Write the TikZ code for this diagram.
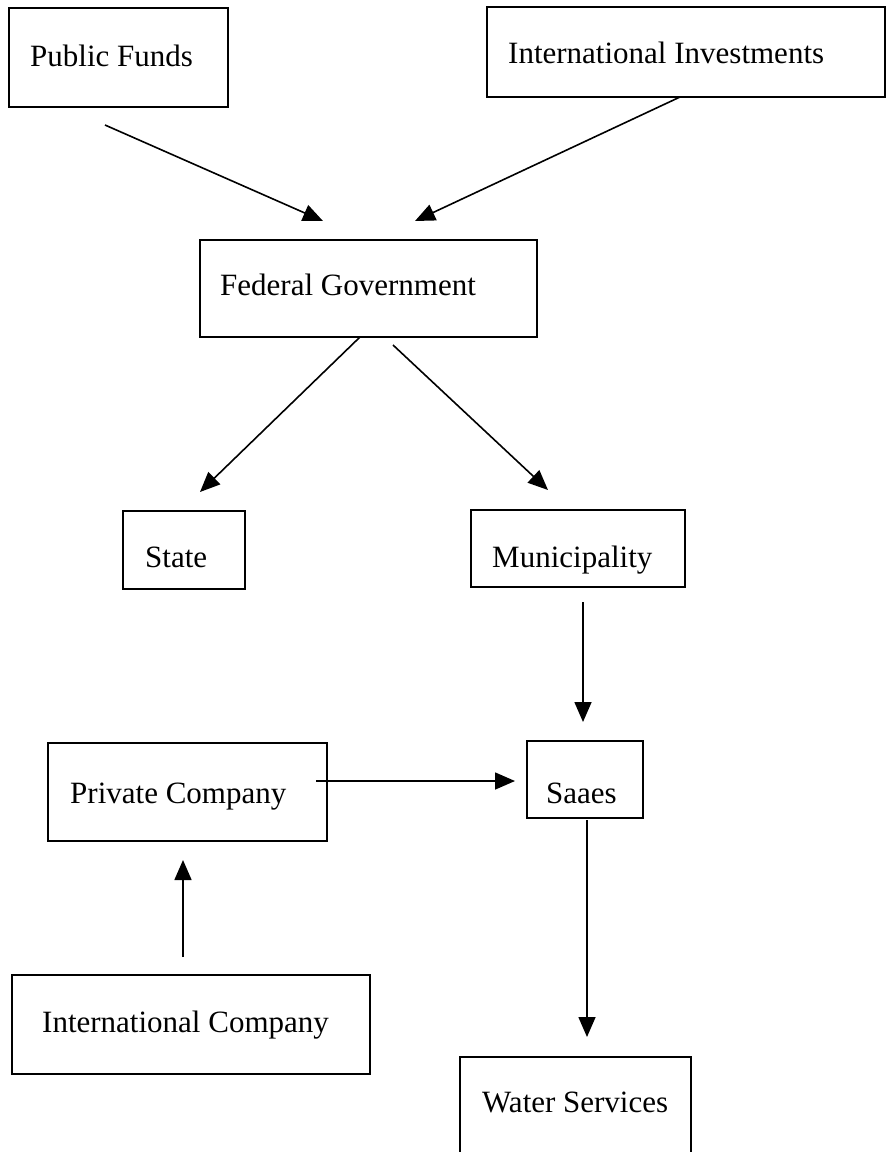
\documentclass[tikz,border=0pt]{standalone}
\usepackage{fontspec}
\setmainfont{Liberation Serif}
\usetikzlibrary{arrows.meta}
\begin{document}
\begin{tikzpicture}[x=1pt,y=-1pt,
  box/.style={draw,line width=2pt,rectangle},
  lbl/.style={font=\fontsize{31}{36}\selectfont,anchor=base west,inner sep=0pt},
  arr/.style={line width=1.6pt,-{Triangle[length=20pt,width=17pt]}}]
\useasboundingbox (0,0) rectangle (887,1152);
% boxes
\draw[box] (9,8) rectangle (228,107);
\node[lbl] (tpf) at (30,66) {Public Funds};
\draw[box] (487,7) rectangle (885,97);
\node[lbl] (tii) at (508,63) {International Investments};
\draw[box] (200,240) rectangle (537,337);
\node[lbl] (tfg) at (220,295) {Federal Government};
\draw[box] (123,511) rectangle (245,589);
\node[lbl] (tst) at (145,567) {State};
\draw[box] (471,510) rectangle (685,587);
\node[lbl] (tmu) at (492,567) {Municipality};
\draw[box] (48,743) rectangle (327,841);
\node[lbl] (tpc) at (70,803) {Private Company};
\draw[box] (527,741) rectangle (643,818);
\node[lbl] (tsa) at (546,803) {Saaes};
\draw[box] (12,975) rectangle (370,1074);
\node[lbl] (tic) at (42,1032) {International Company};
\draw[box] (460,1057) rectangle (691,1160);
\node[lbl] (tws) at (482,1112) {Water Services};
% connector endpoints
\coordinate (a1) at (105,125); \coordinate (b1) at (323,221);
\coordinate (a2) at (680,97);  \coordinate (b2) at (415,221);
\coordinate (a3) at (360,337); \coordinate (b3) at (200,492);
\coordinate (a4) at (393,345); \coordinate (b4) at (548,490);
\coordinate (a5) at (583,602); \coordinate (b5) at (583,722);
\coordinate (a6) at (316,781); \coordinate (b6) at (515,781);
\coordinate (a7) at (183,957); \coordinate (b7) at (183,860);
\coordinate (a8) at (587,820); \coordinate (b8) at (587,1037);
\draw[arr] (a1) -- (b1);
\draw[arr] (a2) -- (b2);
\draw[arr] (a3) -- (b3);
\draw[arr] (a4) -- (b4);
\draw[arr] (a5) -- (b5);
\draw[arr] (a6) -- (b6);
\draw[arr] (a7) -- (b7);
\draw[arr] (a8) -- (b8);
\end{tikzpicture}
\end{document}
